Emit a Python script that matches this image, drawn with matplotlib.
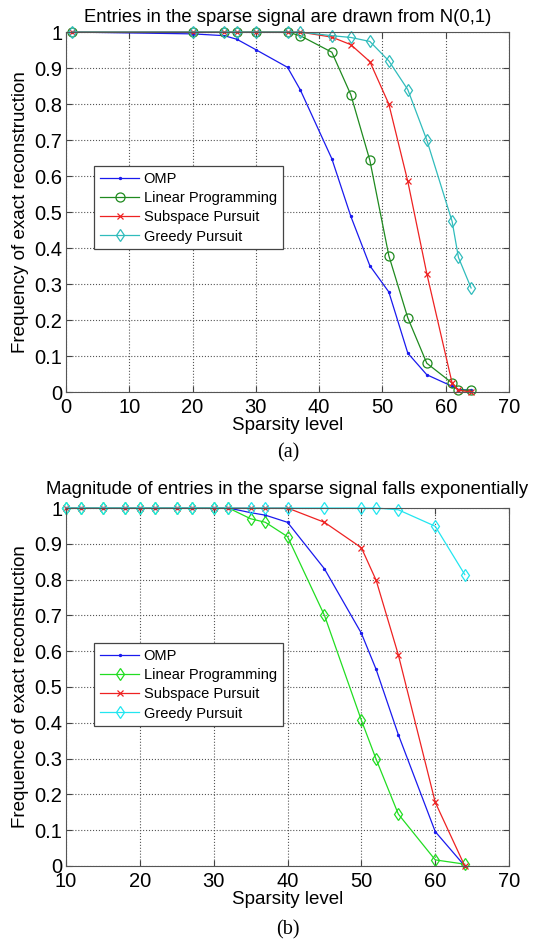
import numpy as np
import matplotlib
matplotlib.use("Agg")
from matplotlib import pyplot as plt

plt.rcParams['font.family'] = ['Liberation Sans', 'DejaVu Sans']

# panel (a): Gaussian entries
k_a = [1, 20, 25, 27, 30, 35, 37, 42, 45, 48, 51, 54, 57, 61, 62, 64]
omp_a = [1.0, 0.995, 0.99, 0.98, 0.951, 0.902, 0.84, 0.648, 0.488, 0.351, 0.278, 0.108, 0.048, 0.016, 0.007, 0.005]
lp_a = [1.0, 1.0, 1.0, 1.0, 1.0, 1.0, 0.99, 0.944, 0.826, 0.644, 0.379, 0.206, 0.08, 0.025, 0.005, 0.005]
sp_a = [1.0, 1.0, 1.0, 1.0, 1.0, 1.0, 1.0, 0.986, 0.965, 0.918, 0.80, 0.585, 0.329, 0.025, 0.005, 0.0]
gp_a = [1.0, 1.0, 1.0, 1.0, 1.0, 1.0, 1.0, 0.99, 0.985, 0.974, 0.92, 0.84, 0.70, 0.474, 0.374, 0.289]

# panel (b): exponentially decaying magnitudes
k_b = [10, 12, 15, 18, 20, 22, 25, 27, 30, 32, 35, 37, 40, 45, 50, 52, 55, 60, 64]
omp_b = [1.0] * 10 + [0.987, 0.98, 0.96, 0.83, 0.65, 0.549, 0.367, 0.096, 0.0]
lp_b = [1.0] * 10 + [0.97, 0.96, 0.92, 0.70, 0.407, 0.298, 0.145, 0.017, 0.005]
sp_b = [1.0] * 13 + [0.96, 0.889, 0.798, 0.59, 0.178, 0.0]
gp_b = [1.0] * 16 + [0.995, 0.949, 0.814]

names = ['OMP', 'Linear Programming', 'Subspace Pursuit', 'Greedy Pursuit']
yticks = np.arange(0, 1.01, 0.1)
ylabels = ['0', '0.1', '0.2', '0.3', '0.4', '0.5', '0.6', '0.7', '0.8', '0.9', '1']


def draw_panel(ax, k, series, colors, markers, xlim, title, ylabel, leg_top, title_pad):
    for y, c, m, name in zip(series, colors, markers, names):
        ms = 3 if m == '.' else (5 if m == 'x' else 6.5)
        ax.plot(k, y, color=c, marker=m, markersize=ms, lw=0.9,
                markerfacecolor='none' if m in 'od' else c,
                markeredgewidth=0.9, label=name, clip_on=False)
    ax.set_xlim(*xlim)
    ax.set_ylim(0, 1)
    ax.set_xticks(np.arange(xlim[0], xlim[1] + 1, 10))
    ax.set_yticks(yticks)
    ax.set_yticklabels(ylabels)
    ax.grid(True, linestyle=':', color='#555555', lw=0.8)
    ax.tick_params(direction='in', top=True, right=True, labelsize=14.5,
                   length=4, color='#444444')
    ax.tick_params(axis='x', pad=4)
    ax.tick_params(axis='y', pad=2.5)
    for s in ax.spines.values():
        s.set_color('#555555')
    ax.set_title(title, fontsize=13.3, pad=title_pad)
    ax.set_xlabel('Sparsity level', fontsize=13.5, labelpad=0)
    ax.set_ylabel(ylabel, fontsize=13.5, labelpad=4)
    leg = ax.legend(loc='upper left', bbox_to_anchor=(0.0632, leg_top), fontsize=10.5,
                    fancybox=False, framealpha=1, edgecolor='#444444',
                    handlelength=2.7, handletextpad=0.3, borderpad=0.4,
                    labelspacing=0.36, borderaxespad=0)
    leg.get_frame().set_linewidth(0.9)


fig = plt.figure(figsize=(5.37, 9.46), dpi=100)
ax1 = fig.add_axes([0.1229, 0.5856, 0.8251, 0.3805])
ax2 = fig.add_axes([0.1229, 0.0846, 0.8251, 0.3784])

draw_panel(ax1, k_a, [omp_a, lp_a, sp_a, gp_a],
           ['#1a1aee', '#1f8a1f', '#ee2222', '#30bcbc'], ['.', 'o', 'x', 'd'],
           (0, 70), 'Entries in the sparse signal are drawn from N(0,1)',
           'Frequency of exact reconstruction', 0.628, 7)
draw_panel(ax2, k_b, [omp_b, lp_b, sp_b, gp_b],
           ['#1a1aee', '#22dd22', '#ee2222', '#22e6f0'], ['.', 'd', 'x', 'd'],
           (10, 70), 'Magnitude of entries in the sparse signal falls exponentially',
           'Frequence of exact reconstruction', 0.623, 10)

fig.text(288 / 537, 1 - 453 / 946, '(a)', ha='center', va='center',
         family='Liberation Serif', fontsize=14.5)
fig.text(288 / 537, 1 - 930 / 946, '(b)', ha='center', va='center',
         family='Liberation Serif', fontsize=14.5)

fig.savefig('out.png', dpi=100)
